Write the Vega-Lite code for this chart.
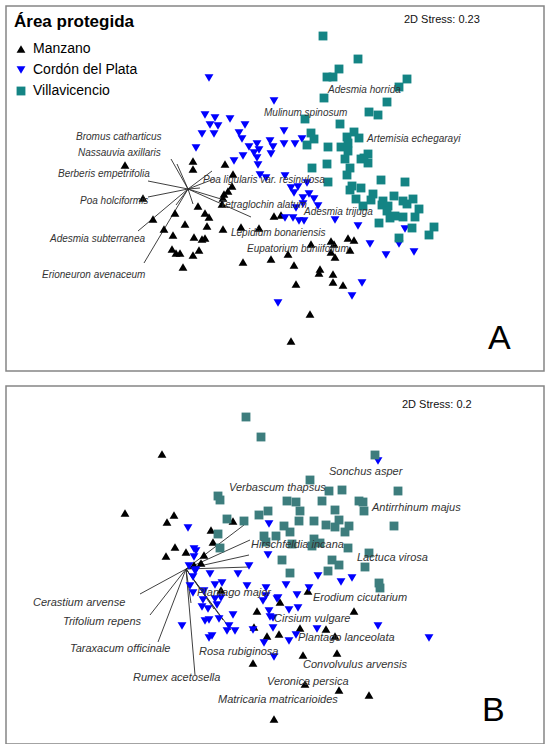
{
"$schema":"https://vega.github.io/schema/vega-lite/v6.json",
"background":"white",
"padding":{"left":5,"top":5,"right":2,"bottom":2},
"spacing":13,
"config":{"view":{"stroke":"#858585","strokeWidth":1.5},"font":"Liberation Sans"},
"datasets":{
"vecA":[{"x":187,"y":188,"xe":170,"ye":158},{"x":187,"y":188,"xe":176,"ye":163},{"x":187,"y":188,"xe":147,"ye":180},{"x":187,"y":188,"xe":147,"ye":196},{"x":187,"y":188,"xe":137,"ye":230},{"x":187,"y":188,"xe":143,"ye":262},{"x":187,"y":188,"xe":211,"ye":170},{"x":187,"y":188,"xe":213,"ye":178},{"x":187,"y":188,"xe":199,"ye":187},{"x":187,"y":188,"xe":250,"ye":216},{"x":187,"y":188,"xe":220,"ye":198},{"x":187,"y":188,"xe":175,"ye":204},{"x":187,"y":188,"xe":192,"ye":203}],
"vecB":[{"x":185,"y":566,"xe":243,"ye":522},{"x":185,"y":566,"xe":249,"ye":537},{"x":185,"y":566,"xe":248,"ye":552},{"x":185,"y":566,"xe":248,"ye":564},{"x":185,"y":566,"xe":139,"ye":591},{"x":185,"y":566,"xe":149,"ye":612},{"x":185,"y":566,"xe":157,"ye":639},{"x":185,"y":566,"xe":194,"ye":672},{"x":185,"y":566,"xe":230,"ye":627},{"x":185,"y":566,"xe":222,"ye":617},{"x":185,"y":566,"xe":213,"ye":606},{"x":185,"y":566,"xe":190,"ye":600}],
"labA":[{"x":75,"y":139,"t":"Bromus catharticus"},{"x":77,"y":155,"t":"Nassauvia axillaris"},{"x":57,"y":176,"t":"Berberis empetrifolia"},{"x":79,"y":203,"t":"Poa holciformis"},{"x":49,"y":241,"t":"Adesmia subterranea"},{"x":41,"y":277,"t":"Erioneuron avenaceum"},{"x":202,"y":182,"t":"Poa ligularis var. resinulosa"},{"x":219,"y":207,"t":"Tetraglochin alatum"},{"x":230,"y":235,"t":"Lepidium bonariensis"},{"x":246,"y":251,"t":"Eupatorium buniifolium"},{"x":263,"y":115,"t":"Mulinum spinosum"},{"x":327,"y":92,"t":"Adesmia horrida"},{"x":366,"y":141,"t":"Artemisia echegarayi"},{"x":303,"y":214,"t":"Adesmia trijuga"}],
"labB":[{"x":228,"y":488,"t":"Verbascum thapsus"},{"x":328,"y":472,"t":"Sonchus asper"},{"x":371,"y":508,"t":"Antirrhinum majus"},{"x":250,"y":545,"t":"Hirschfeldia incana"},{"x":356,"y":558,"t":"Lactuca virosa"},{"x":196,"y":593,"t":"Plantago major"},{"x":312,"y":598,"t":"Erodium cicutarium"},{"x":273,"y":619,"t":"Cirsium vulgare"},{"x":297,"y":638,"t":"Plantago lanceolata"},{"x":198,"y":652,"t":"Rosa rubiginosa"},{"x":302,"y":665,"t":"Convolvulus arvensis"},{"x":266,"y":682,"t":"Veronica persica"},{"x":217,"y":700,"t":"Matricaria matricarioides"},{"x":32,"y":603,"t":"Cerastium arvense"},{"x":62,"y":622,"t":"Trifolium repens"},{"x":69,"y":649,"t":"Taraxacum officinale"},{"x":132,"y":678,"t":"Rumex acetosella"}],
"stA":[{"x":403,"y":22,"t":"2D Stress: 0.23"}],
"stB":[{"x":401,"y":405,"t":"2D Stress: 0.2"}],
"letA":[{"x":487,"y":348,"t":"A"}],
"letB":[{"x":481,"y":718,"t":"B"}],
"ptsA":[
{"g":"Manzano","x":124,"y":164},{"g":"Manzano","x":192,"y":160},{"g":"Manzano","x":192,"y":168},{"g":"Manzano","x":224,"y":163},{"g":"Manzano","x":232,"y":173},{"g":"Manzano","x":231,"y":185},{"g":"Manzano","x":227,"y":190},{"g":"Manzano","x":223,"y":193},{"g":"Manzano","x":222,"y":197},{"g":"Manzano","x":221,"y":203},{"g":"Manzano","x":142,"y":197},{"g":"Manzano","x":152,"y":218},{"g":"Manzano","x":174,"y":212},{"g":"Manzano","x":163,"y":228},{"g":"Manzano","x":172,"y":234},{"g":"Manzano","x":184,"y":223},{"g":"Manzano","x":197,"y":205},{"g":"Manzano","x":204,"y":212},{"g":"Manzano","x":208,"y":216},{"g":"Manzano","x":206,"y":225},{"g":"Manzano","x":193,"y":236},{"g":"Manzano","x":201,"y":238},{"g":"Manzano","x":204,"y":237},{"g":"Manzano","x":222,"y":228},{"g":"Manzano","x":240,"y":226},{"g":"Manzano","x":258,"y":227},{"g":"Manzano","x":171,"y":248},{"g":"Manzano","x":175,"y":252},{"g":"Manzano","x":179,"y":252},{"g":"Manzano","x":192,"y":254},{"g":"Manzano","x":198,"y":249},{"g":"Manzano","x":182,"y":266},{"g":"Manzano","x":242,"y":261},{"g":"Manzano","x":270,"y":258},{"g":"Manzano","x":273,"y":215},{"g":"Manzano","x":280,"y":214},{"g":"Manzano","x":310,"y":243},{"g":"Manzano","x":330,"y":240},{"g":"Manzano","x":333,"y":243},{"g":"Manzano","x":347,"y":237},{"g":"Manzano","x":353,"y":239},{"g":"Manzano","x":349,"y":249},{"g":"Manzano","x":287,"y":253},{"g":"Manzano","x":330,"y":251},{"g":"Manzano","x":334,"y":256},{"g":"Manzano","x":293,"y":264},{"g":"Manzano","x":319,"y":268},{"g":"Manzano","x":318,"y":272},{"g":"Manzano","x":332,"y":273},{"g":"Manzano","x":332,"y":281},{"g":"Manzano","x":342,"y":284},{"g":"Manzano","x":295,"y":283},{"g":"Manzano","x":309,"y":313},{"g":"Manzano","x":290,"y":340},
{"g":"Cordón del Plata","x":208,"y":77},{"g":"Cordón del Plata","x":273,"y":100},{"g":"Cordón del Plata","x":204,"y":114},{"g":"Cordón del Plata","x":214,"y":117},{"g":"Cordón del Plata","x":229,"y":118},{"g":"Cordón del Plata","x":209,"y":124},{"g":"Cordón del Plata","x":217,"y":125},{"g":"Cordón del Plata","x":201,"y":133},{"g":"Cordón del Plata","x":213,"y":133},{"g":"Cordón del Plata","x":244,"y":124},{"g":"Cordón del Plata","x":238,"y":132},{"g":"Cordón del Plata","x":241,"y":138},{"g":"Cordón del Plata","x":248,"y":146},{"g":"Cordón del Plata","x":256,"y":143},{"g":"Cordón del Plata","x":195,"y":147},{"g":"Cordón del Plata","x":242,"y":155},{"g":"Cordón del Plata","x":253,"y":152},{"g":"Cordón del Plata","x":258,"y":149},{"g":"Cordón del Plata","x":256,"y":157},{"g":"Cordón del Plata","x":233,"y":160},{"g":"Cordón del Plata","x":257,"y":164},{"g":"Cordón del Plata","x":269,"y":140},{"g":"Cordón del Plata","x":272,"y":146},{"g":"Cordón del Plata","x":270,"y":153},{"g":"Cordón del Plata","x":283,"y":130},{"g":"Cordón del Plata","x":283,"y":143},{"g":"Cordón del Plata","x":294,"y":143},{"g":"Cordón del Plata","x":301,"y":138},{"g":"Cordón del Plata","x":259,"y":174},{"g":"Cordón del Plata","x":265,"y":177},{"g":"Cordón del Plata","x":284,"y":175},{"g":"Cordón del Plata","x":290,"y":187},{"g":"Cordón del Plata","x":297,"y":186},{"g":"Cordón del Plata","x":306,"y":182},{"g":"Cordón del Plata","x":293,"y":192},{"g":"Cordón del Plata","x":302,"y":197},{"g":"Cordón del Plata","x":308,"y":193},{"g":"Cordón del Plata","x":313,"y":198},{"g":"Cordón del Plata","x":295,"y":207},{"g":"Cordón del Plata","x":302,"y":203},{"g":"Cordón del Plata","x":317,"y":205},{"g":"Cordón del Plata","x":284,"y":217},{"g":"Cordón del Plata","x":292,"y":217},{"g":"Cordón del Plata","x":298,"y":220},{"g":"Cordón del Plata","x":303,"y":220},{"g":"Cordón del Plata","x":334,"y":219},{"g":"Cordón del Plata","x":357,"y":225},{"g":"Cordón del Plata","x":404,"y":228},{"g":"Cordón del Plata","x":369,"y":243},{"g":"Cordón del Plata","x":398,"y":243},{"g":"Cordón del Plata","x":385,"y":254},{"g":"Cordón del Plata","x":413,"y":251},{"g":"Cordón del Plata","x":361,"y":282},{"g":"Cordón del Plata","x":351,"y":295},{"g":"Cordón del Plata","x":277,"y":302},
{"g":"Villavicencio","x":322,"y":35},{"g":"Villavicencio","x":357,"y":58},{"g":"Villavicencio","x":338,"y":68},{"g":"Villavicencio","x":326,"y":76},{"g":"Villavicencio","x":332,"y":76},{"g":"Villavicencio","x":406,"y":78},{"g":"Villavicencio","x":398,"y":86},{"g":"Villavicencio","x":323,"y":97},{"g":"Villavicencio","x":386,"y":101},{"g":"Villavicencio","x":368,"y":111},{"g":"Villavicencio","x":377,"y":114},{"g":"Villavicencio","x":304,"y":118},{"g":"Villavicencio","x":339,"y":123},{"g":"Villavicencio","x":310,"y":132},{"g":"Villavicencio","x":313,"y":138},{"g":"Villavicencio","x":306,"y":144},{"g":"Villavicencio","x":327,"y":146},{"g":"Villavicencio","x":346,"y":136},{"g":"Villavicencio","x":353,"y":131},{"g":"Villavicencio","x":358,"y":137},{"g":"Villavicencio","x":347,"y":142},{"g":"Villavicencio","x":340,"y":146},{"g":"Villavicencio","x":347,"y":150},{"g":"Villavicencio","x":344,"y":158},{"g":"Villavicencio","x":360,"y":158},{"g":"Villavicencio","x":367,"y":153},{"g":"Villavicencio","x":367,"y":162},{"g":"Villavicencio","x":363,"y":157},{"g":"Villavicencio","x":311,"y":167},{"g":"Villavicencio","x":326,"y":163},{"g":"Villavicencio","x":349,"y":167},{"g":"Villavicencio","x":346,"y":174},{"g":"Villavicencio","x":380,"y":179},{"g":"Villavicencio","x":404,"y":181},{"g":"Villavicencio","x":327,"y":181},{"g":"Villavicencio","x":351,"y":185},{"g":"Villavicencio","x":360,"y":187},{"g":"Villavicencio","x":349,"y":189},{"g":"Villavicencio","x":372,"y":193},{"g":"Villavicencio","x":355,"y":198},{"g":"Villavicencio","x":370,"y":199},{"g":"Villavicencio","x":382,"y":200},{"g":"Villavicencio","x":393,"y":195},{"g":"Villavicencio","x":402,"y":200},{"g":"Villavicencio","x":406,"y":203},{"g":"Villavicencio","x":412,"y":198},{"g":"Villavicencio","x":362,"y":205},{"g":"Villavicencio","x":381,"y":204},{"g":"Villavicencio","x":387,"y":205},{"g":"Villavicencio","x":418,"y":208},{"g":"Villavicencio","x":386,"y":210},{"g":"Villavicencio","x":394,"y":215},{"g":"Villavicencio","x":402,"y":216},{"g":"Villavicencio","x":414,"y":216},{"g":"Villavicencio","x":389,"y":217},{"g":"Villavicencio","x":378,"y":222},{"g":"Villavicencio","x":411,"y":227},{"g":"Villavicencio","x":433,"y":226},{"g":"Villavicencio","x":428,"y":234},{"g":"Villavicencio","x":398,"y":237}
],
"ptsB":[
{"g":"Manzano","x":161,"y":451},{"g":"Manzano","x":124,"y":510},{"g":"Manzano","x":173,"y":512},{"g":"Manzano","x":166,"y":519},{"g":"Manzano","x":232,"y":518},{"g":"Manzano","x":210,"y":527},{"g":"Manzano","x":212,"y":539},{"g":"Manzano","x":174,"y":544},{"g":"Manzano","x":185,"y":549},{"g":"Manzano","x":165,"y":553},{"g":"Manzano","x":203,"y":552},{"g":"Manzano","x":200,"y":560},{"g":"Manzano","x":193,"y":562},{"g":"Manzano","x":220,"y":587},{"g":"Manzano","x":307,"y":588},{"g":"Manzano","x":256,"y":608},{"g":"Manzano","x":253,"y":624},{"g":"Manzano","x":266,"y":633},{"g":"Manzano","x":252,"y":660},{"g":"Manzano","x":273,"y":716},{"g":"Manzano","x":279,"y":599},{"g":"Manzano","x":353,"y":608},{"g":"Manzano","x":299,"y":625},{"g":"Manzano","x":325,"y":626},{"g":"Manzano","x":278,"y":631},{"g":"Manzano","x":334,"y":633},{"g":"Manzano","x":302,"y":652},{"g":"Manzano","x":336,"y":650},{"g":"Manzano","x":304,"y":681},{"g":"Manzano","x":338,"y":687},{"g":"Manzano","x":368,"y":692},
{"g":"Cordón del Plata","x":377,"y":458},{"g":"Cordón del Plata","x":268,"y":521},{"g":"Cordón del Plata","x":187,"y":525},{"g":"Cordón del Plata","x":267,"y":552},{"g":"Cordón del Plata","x":193,"y":546},{"g":"Cordón del Plata","x":195,"y":548},{"g":"Cordón del Plata","x":193,"y":554},{"g":"Cordón del Plata","x":195,"y":567},{"g":"Cordón del Plata","x":188,"y":563},{"g":"Cordón del Plata","x":209,"y":571},{"g":"Cordón del Plata","x":237,"y":571},{"g":"Cordón del Plata","x":248,"y":563},{"g":"Cordón del Plata","x":194,"y":568},{"g":"Cordón del Plata","x":192,"y":574},{"g":"Cordón del Plata","x":214,"y":582},{"g":"Cordón del Plata","x":221,"y":580},{"g":"Cordón del Plata","x":189,"y":583},{"g":"Cordón del Plata","x":246,"y":583},{"g":"Cordón del Plata","x":265,"y":585},{"g":"Cordón del Plata","x":285,"y":582},{"g":"Cordón del Plata","x":192,"y":590},{"g":"Cordón del Plata","x":203,"y":588},{"g":"Cordón del Plata","x":202,"y":597},{"g":"Cordón del Plata","x":214,"y":596},{"g":"Cordón del Plata","x":220,"y":595},{"g":"Cordón del Plata","x":216,"y":602},{"g":"Cordón del Plata","x":201,"y":604},{"g":"Cordón del Plata","x":207,"y":606},{"g":"Cordón del Plata","x":262,"y":598},{"g":"Cordón del Plata","x":232,"y":612},{"g":"Cordón del Plata","x":218,"y":616},{"g":"Cordón del Plata","x":204,"y":618},{"g":"Cordón del Plata","x":208,"y":617},{"g":"Cordón del Plata","x":181,"y":623},{"g":"Cordón del Plata","x":228,"y":623},{"g":"Cordón del Plata","x":226,"y":628},{"g":"Cordón del Plata","x":234,"y":628},{"g":"Cordón del Plata","x":252,"y":627},{"g":"Cordón del Plata","x":272,"y":625},{"g":"Cordón del Plata","x":211,"y":633},{"g":"Cordón del Plata","x":208,"y":635},{"g":"Cordón del Plata","x":263,"y":640},{"g":"Cordón del Plata","x":273,"y":654},{"g":"Cordón del Plata","x":268,"y":608},{"g":"Cordón del Plata","x":269,"y":614},{"g":"Cordón del Plata","x":317,"y":573},{"g":"Cordón del Plata","x":340,"y":579},{"g":"Cordón del Plata","x":351,"y":575},{"g":"Cordón del Plata","x":308,"y":585},{"g":"Cordón del Plata","x":296,"y":592},{"g":"Cordón del Plata","x":276,"y":596},{"g":"Cordón del Plata","x":288,"y":607},{"g":"Cordón del Plata","x":297,"y":605},{"g":"Cordón del Plata","x":272,"y":615},{"g":"Cordón del Plata","x":316,"y":626},{"g":"Cordón del Plata","x":295,"y":632},{"g":"Cordón del Plata","x":288,"y":638},{"g":"Cordón del Plata","x":377,"y":623},{"g":"Cordón del Plata","x":428,"y":635},{"g":"Cordón del Plata","x":265,"y":593},{"g":"Cordón del Plata","x":277,"y":595},
{"g":"Villavicencio","x":245,"y":414},{"g":"Villavicencio","x":260,"y":434},{"g":"Villavicencio","x":374,"y":452},{"g":"Villavicencio","x":217,"y":493},{"g":"Villavicencio","x":219,"y":497},{"g":"Villavicencio","x":226,"y":516},{"g":"Villavicencio","x":243,"y":518},{"g":"Villavicencio","x":258,"y":512},{"g":"Villavicencio","x":267,"y":508},{"g":"Villavicencio","x":217,"y":531},{"g":"Villavicencio","x":219,"y":545},{"g":"Villavicencio","x":263,"y":533},{"g":"Villavicencio","x":275,"y":533},{"g":"Villavicencio","x":283,"y":523},{"g":"Villavicencio","x":289,"y":529},{"g":"Villavicencio","x":265,"y":539},{"g":"Villavicencio","x":286,"y":498},{"g":"Villavicencio","x":295,"y":499},{"g":"Villavicencio","x":309,"y":477},{"g":"Villavicencio","x":328,"y":488},{"g":"Villavicencio","x":341,"y":487},{"g":"Villavicencio","x":397,"y":488},{"g":"Villavicencio","x":321,"y":498},{"g":"Villavicencio","x":358,"y":498},{"g":"Villavicencio","x":362,"y":499},{"g":"Villavicencio","x":299,"y":508},{"g":"Villavicencio","x":334,"y":507},{"g":"Villavicencio","x":363,"y":508},{"g":"Villavicencio","x":298,"y":518},{"g":"Villavicencio","x":313,"y":518},{"g":"Villavicencio","x":325,"y":522},{"g":"Villavicencio","x":334,"y":524},{"g":"Villavicencio","x":338,"y":517},{"g":"Villavicencio","x":348,"y":523},{"g":"Villavicencio","x":344,"y":529},{"g":"Villavicencio","x":393,"y":523},{"g":"Villavicencio","x":313,"y":536},{"g":"Villavicencio","x":319,"y":540},{"g":"Villavicencio","x":311,"y":543},{"g":"Villavicencio","x":291,"y":541},{"g":"Villavicencio","x":347,"y":545},{"g":"Villavicencio","x":368,"y":550},{"g":"Villavicencio","x":331,"y":557},{"g":"Villavicencio","x":281,"y":557},{"g":"Villavicencio","x":289,"y":570},{"g":"Villavicencio","x":338,"y":562},{"g":"Villavicencio","x":327,"y":568},{"g":"Villavicencio","x":364,"y":564},{"g":"Villavicencio","x":378,"y":580},{"g":"Villavicencio","x":379,"y":585}
]
},
"vconcat":[
{"width":538,"height":365,
"encoding":{"x":{"field":"x","type":"quantitative","scale":{"domain":[5,543],"nice":false,"zero":false},"axis":null},"y":{"field":"y","type":"quantitative","scale":{"domain":[5,370],"nice":false,"zero":false,"reverse":true},"axis":null}},
"layer":[
{"data":{"name":"vecA"},"mark":{"type":"rule","color":"#2a2a2a","strokeWidth":0.9},"encoding":{"x2":{"field":"xe"},"y2":{"field":"ye"}}},
{"data":{"name":"ptsA"},"mark":{"type":"point","filled":true,"opacity":1,"strokeWidth":0},
"encoding":{
"shape":{"field":"g","type":"nominal","scale":{"domain":["Manzano","Cordón del Plata","Villavicencio"],"range":["triangle-up","triangle-down","square"]},"legend":{"title":"Área protegida","orient":"top-left","offset":8,"padding":0,"titleFontSize":17,"titleFontWeight":"bold","titleColor":"#000","titlePadding":11,"labelFontSize":14,"labelColor":"#000","symbolSize":140,"rowPadding":7,"labelOffset":5,"symbolStrokeWidth":0}},
"color":{"field":"g","type":"nominal","scale":{"domain":["Manzano","Cordón del Plata","Villavicencio"],"range":["#000000","#0000ff","#148484"]},"legend":{"title":"Área protegida","orient":"top-left","offset":8,"padding":0,"titleFontSize":17,"titleFontWeight":"bold","titleColor":"#000","titlePadding":11,"labelFontSize":14,"labelColor":"#000","symbolSize":140,"rowPadding":7,"labelOffset":5,"symbolStrokeWidth":0}},
"size":{"field":"g","type":"nominal","scale":{"domain":["Manzano","Cordón del Plata","Villavicencio"],"range":[78,78,46]},"legend":null}}},
{"data":{"name":"labA"},"mark":{"type":"text","align":"left","baseline":"alphabetic","fontStyle":"italic","fontSize":10,"color":"#333333"},"encoding":{"text":{"field":"t"}}},
{"data":{"name":"stA"},"mark":{"type":"text","align":"left","baseline":"alphabetic","fontSize":11,"color":"#111111"},"encoding":{"text":{"field":"t"}}},
{"data":{"name":"letA"},"mark":{"type":"text","align":"left","baseline":"alphabetic","fontSize":34,"color":"#000000"},"encoding":{"text":{"field":"t"}}}
]},
{"width":538,"height":358,
"encoding":{"x":{"field":"x","type":"quantitative","scale":{"domain":[5,543],"nice":false,"zero":false},"axis":null},"y":{"field":"y","type":"quantitative","scale":{"domain":[383,741],"nice":false,"zero":false,"reverse":true},"axis":null}},
"layer":[
{"data":{"name":"vecB"},"mark":{"type":"rule","color":"#2a2a2a","strokeWidth":0.9},"encoding":{"x2":{"field":"xe"},"y2":{"field":"ye"}}},
{"data":{"name":"ptsB"},"mark":{"type":"point","filled":true,"opacity":1,"strokeWidth":0},
"encoding":{
"shape":{"field":"g","type":"nominal","scale":{"domain":["Manzano","Cordón del Plata","Villavicencio"],"range":["triangle-up","triangle-down","square"]},"legend":null},
"color":{"field":"g","type":"nominal","scale":{"domain":["Manzano","Cordón del Plata","Villavicencio"],"range":["#000000","#0000ff","#3d7d7d"]},"legend":null},
"size":{"field":"g","type":"nominal","scale":{"domain":["Manzano","Cordón del Plata","Villavicencio"],"range":[78,78,46]},"legend":null}}},
{"data":{"name":"labB"},"mark":{"type":"text","align":"left","baseline":"alphabetic","fontStyle":"italic","fontSize":11,"color":"#333333"},"encoding":{"text":{"field":"t"}}},
{"data":{"name":"stB"},"mark":{"type":"text","align":"left","baseline":"alphabetic","fontSize":11,"color":"#111111"},"encoding":{"text":{"field":"t"}}},
{"data":{"name":"letB"},"mark":{"type":"text","align":"left","baseline":"alphabetic","fontSize":34,"color":"#000000"},"encoding":{"text":{"field":"t"}}}
]}
],
"resolve":{"scale":{"color":"independent","shape":"independent","size":"independent","x":"independent","y":"independent"},"legend":{"color":"independent","shape":"independent","size":"independent"}}
}
